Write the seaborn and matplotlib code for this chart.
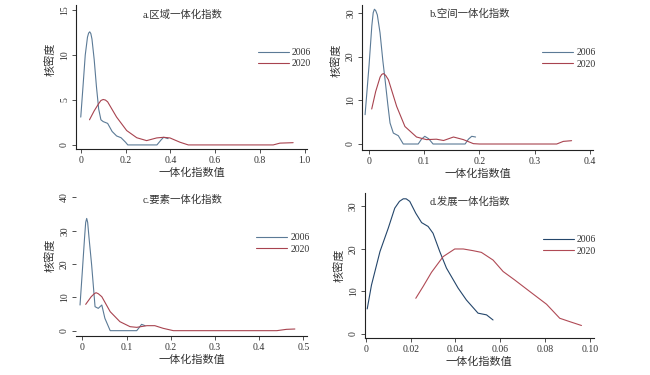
import matplotlib
matplotlib.use("Agg")
import matplotlib.pyplot as plt
import pandas as pd
import seaborn as sns
import numpy as np

sns.set_style("ticks")
plt.rcParams['font.family'] = ['Liberation Serif', 'Noto Sans CJK SC']
plt.rcParams['axes.unicode_minus'] = False

# ---- values (x = index value, y = kernel density) ----
a06_x = [0.0, 0.01, 0.02, 0.03, 0.035, 0.04, 0.045, 0.05, 0.06, 0.07, 0.08, 0.09, 0.10, 0.12, 0.14, 0.16, 0.18, 0.20, 0.21, 0.30, 0.34, 0.36, 0.37, 0.39]
a06_y = [3.1, 6.5, 10.0, 12.0, 12.45, 12.6, 12.4, 11.8, 9.5, 6.5, 4.0, 2.8, 2.6, 2.4, 1.5, 1.0, 0.8, 0.3, 0.0, 0.0, 0.0, 0.6, 0.85, 0.7]
a20_x = [0.039, 0.06, 0.08, 0.09, 0.10, 0.11, 0.12, 0.16, 0.205, 0.25, 0.294, 0.339, 0.37, 0.398, 0.443, 0.48, 0.70, 0.859, 0.889, 0.948]
a20_y = [2.8, 3.8, 4.6, 4.95, 5.06, 5.0, 4.8, 3.1, 1.6, 0.8, 0.48, 0.78, 0.85, 0.78, 0.3, 0.0, 0.0, 0.0, 0.2, 0.25]

b06_x = [-0.0072, 0.0, 0.005, 0.0075, 0.0097, 0.012, 0.015, 0.0199, 0.025, 0.029, 0.034, 0.038, 0.044, 0.053, 0.062, 0.089, 0.095, 0.101, 0.108, 0.116, 0.174, 0.18, 0.186, 0.193]
b06_y = [6.7, 18.0, 27.0, 30.0, 30.8, 30.5, 29.5, 25.4, 19.0, 14.7, 9.0, 4.8, 2.5, 1.9, 0.0, 0.0, 1.1, 1.76, 1.2, 0.0, 0.0, 1.1, 1.76, 1.6]
b20_x = [0.0048, 0.012, 0.02, 0.023, 0.026, 0.030, 0.035, 0.05, 0.065, 0.086, 0.104, 0.122, 0.135, 0.153, 0.171, 0.189, 0.20, 0.34, 0.352, 0.367]
b20_y = [8.0, 12.0, 15.3, 15.9, 16.1, 15.7, 14.7, 8.6, 4.0, 1.6, 1.0, 1.1, 0.8, 1.6, 1.0, 0.08, 0.0, 0.0, 0.6, 0.76]

c06_x = [-0.0053, 0.0, 0.005, 0.0075, 0.0098, 0.012, 0.015, 0.021, 0.0287, 0.036, 0.044, 0.051, 0.063, 0.123, 0.129, 0.134, 0.142]
c06_y = [7.7, 18.0, 28.0, 32.5, 33.7, 32.5, 28.0, 19.7, 7.2, 6.7, 7.7, 3.7, 0.0, 0.0, 1.0, 1.9, 1.5]
c20_x = [0.0075, 0.02, 0.027, 0.031, 0.036, 0.044, 0.063, 0.085, 0.108, 0.123, 0.146, 0.164, 0.183, 0.206, 0.44, 0.462, 0.481]
c20_y = [7.9, 10.2, 11.1, 11.4, 11.1, 10.2, 5.7, 2.7, 1.2, 1.0, 1.5, 1.5, 0.7, 0.0, 0.0, 0.4, 0.5]

d06_x = [0.0006, 0.0025, 0.0063, 0.010, 0.0129, 0.015, 0.0167, 0.018, 0.0196, 0.0223, 0.0249, 0.0278, 0.030, 0.033, 0.036, 0.0412, 0.0449, 0.0501, 0.0539, 0.0568]
d06_y = [5.9, 11.5, 19.4, 24.9, 29.6, 31.2, 31.8, 31.8, 31.2, 28.4, 26.2, 25.3, 23.7, 19.4, 15.5, 10.8, 8.0, 4.9, 4.5, 3.3]
d20_x = [0.0223, 0.0256, 0.0293, 0.0345, 0.0397, 0.0435, 0.0479, 0.0516, 0.0568, 0.0613, 0.0665, 0.0732, 0.0807, 0.0866, 0.0911, 0.0963]
d20_y = [8.4, 11.2, 14.5, 18.2, 20.0, 20.0, 19.6, 19.2, 17.4, 14.7, 12.7, 10.0, 7.0, 3.7, 2.9, 2.0]

titles = ["a.区域一体化指数", "b.空间一体化指数", "c.要素一体化指数", "d.发展一体化指数"]
xlabel = "一体化指数值"
ylabel = "核密度"
years = ["2006", "2020"]

panels = [
    dict(s06=(a06_x, a06_y), s20=(a20_x, a20_y),
         rect=[0.117, 0.603, 0.355, 0.384], xlim=(-0.021, 1.009), ylim=(-0.44, 15.6),
         xt=[0, 0.2, 0.4, 0.6, 0.8, 1.0], xtl=["0", "0.2", "0.4", "0.6", "0.8", "1.0"], yt=[0, 5, 10, 15],
         tpos=(0.463, 0.93), leg=(0.766, 0.63), ylab_y=0.62),
    dict(s06=(b06_x, b06_y), s20=(b20_x, b20_y),
         rect=[0.557, 0.600, 0.355, 0.387], xlim=(-0.0127, 0.4054), ylim=(-1.37, 31.8),
         xt=[0, 0.1, 0.2, 0.3, 0.4], xtl=["0", "0.1", "0.2", "0.3", "0.4"], yt=[0, 10, 20, 30],
         tpos=(0.467, 0.94), leg=(0.76, 0.63), ylab_y=0.62),
    dict(s06=(c06_x, c06_y), s20=(c20_x, c20_y),
         rect=[0.117, 0.104, 0.355, 0.389], xlim=(-0.0143, 0.508), ylim=(-1.6, 42.2),
         xt=[0, 0.1, 0.2, 0.3, 0.4, 0.5], xtl=["0", "0.1", "0.2", "0.3", "0.4", "0.5"], yt=[0, 10, 20, 30, 40],
         tpos=(0.463, 0.93), leg=(0.76, 0.634), ylab_y=0.55),
    dict(s06=(d06_x, d06_y), s20=(d20_x, d20_y),
         rect=[0.5615, 0.0987, 0.352, 0.387], xlim=(-0.0004, 0.1018), ylim=(-0.94, 33.2),
         xt=[0, 0.02, 0.04, 0.06, 0.08, 0.10], xtl=["0", "0.02", "0.04", "0.06", "0.08", "0.10"], yt=[0, 10, 20, 30],
         tpos=(0.458, 0.94), leg=(0.755, 0.638), ylab_y=0.5),
]

c06 = ["#5b7a96", "#5b7a96", "#5b7a96", "#24466b"]
c20 = ["#a8434f", "#a8434f", "#a8434f", "#b04a55"]
text_c = "#333333"

fig = plt.figure(figsize=(6.5, 3.75), dpi=100)
for i, p in enumerate(panels):
    ax = fig.add_axes(p["rect"])
    df06 = pd.DataFrame({"x": p["s06"][0], "y": p["s06"][1]})
    df20 = pd.DataFrame({"x": p["s20"][0], "y": p["s20"][1]})
    sns.lineplot(data=df06, x="x", y="y", ax=ax, color=c06[i], lw=0.8, label=years[0], sort=False)
    sns.lineplot(data=df20, x="x", y="y", ax=ax, color=c20[i], lw=0.8, label=years[1], sort=False)
    ax.set_xlim(p["xlim"])
    ax.set_ylim(p["ylim"])
    ax.set_xticks(p["xt"])
    ax.set_xticklabels(p["xtl"])
    ax.set_yticks(p["yt"])
    ax.set_yticklabels([str(v) for v in p["yt"]], rotation=90, va="center")
    ax.tick_params(axis="both", labelsize=7, colors=text_c, length=3, width=0.6, pad=2)
    for s in ["top", "right"]:
        ax.spines[s].set_visible(False)
    ax.spines["bottom"].set_linewidth(0.8)
    ax.spines["left"].set_linewidth(0.8)
    ax.spines["bottom"].set_color("#222222")
    ax.spines["left"].set_color("#222222")
    if i == 2:
        ax.spines["left"].set_visible(False)
    ax.set_xlabel(xlabel, fontsize=8, color=text_c, labelpad=2)
    ax.set_ylabel(ylabel, fontsize=8, color=text_c, labelpad=2)
    ax.yaxis.set_label_coords(-0.09, p["ylab_y"])
    ax.text(p["tpos"][0], p["tpos"][1], titles[i], transform=ax.transAxes,
            ha="center", va="center", fontsize=7.5, color=text_c)
    ax.legend(loc="center left", bbox_to_anchor=p["leg"], frameon=False, fontsize=7,
              handlelength=3.2, handletextpad=0.3, labelspacing=0.25, borderpad=0,
              labelcolor=text_c)

fig.savefig("out.png", dpi=100)
